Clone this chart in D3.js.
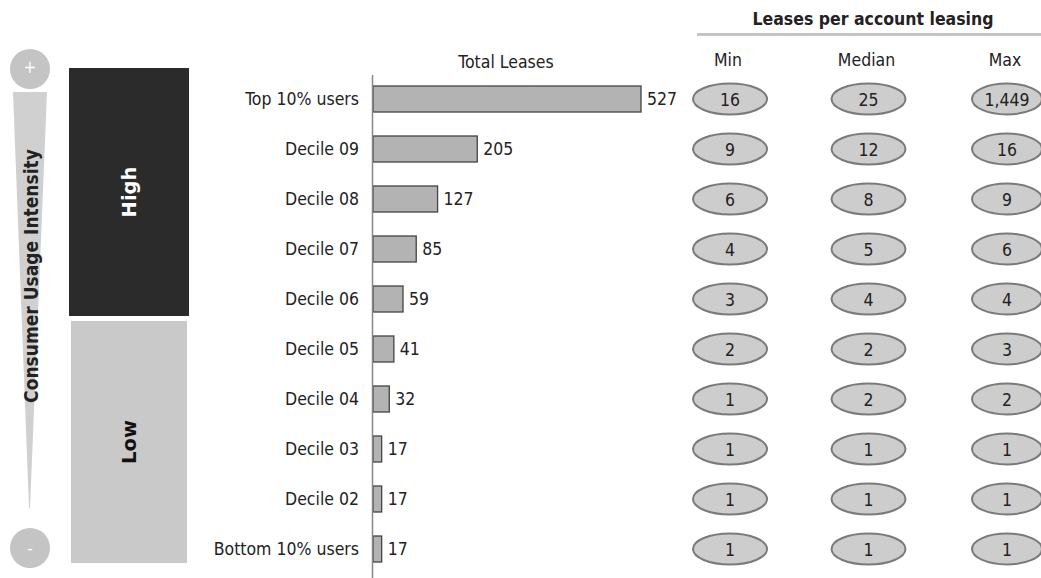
<!DOCTYPE html>
<html><head><meta charset="utf-8">
<script src="https://cdn.jsdelivr.net/npm/d3@7/dist/d3.min.js"></script>
<style>
html,body{margin:0;padding:0;background:#fff;}
svg{display:block;font-family:"DejaVu Sans Condensed","DejaVu Sans",sans-serif;}
</style></head><body>
<svg id="c" width="1041" height="578"></svg>
<script>
const categories = ["Top 10% users","Decile 09","Decile 08","Decile 07","Decile 06","Decile 05","Decile 04","Decile 03","Decile 02","Bottom 10% users"];
const totalLeases = [527,205,127,85,59,41,32,17,17,17];
const minLeases = [16,9,6,4,3,2,1,1,1,1];
const medianLeases = [25,12,8,5,4,2,2,1,1,1];
const maxLeases = [1449,16,9,6,4,3,2,1,1,1];
const statColumns = ["Min","Median","Max"];
const groups = [{label:"High", from:0, to:4},{label:"Low", from:5, to:9}];

const FS = 17.5;
const svg = d3.select("#c");
const fmt = d3.format(",");

const y = d3.scaleBand().domain(categories).range([74, 574]).paddingInner(0.48).paddingOuter(0.24);
const x = d3.scaleLinear().domain([0, 527]).range([373, 641]);

// Left intensity indicator
const ind = svg.append("g");
ind.append("path").attr("d","M13,92 L47,92 L30,508 L29,508 Z").attr("fill","#d0d0d0");
ind.append("circle").attr("cx",30).attr("cy",69).attr("r",20).attr("fill","#c4c4c4");
ind.append("circle").attr("cx",30).attr("cy",548).attr("r",20).attr("fill","#c4c4c4");
ind.append("text").attr("x",30).attr("y",67).attr("dy","0.35em").attr("text-anchor","middle").attr("fill","#fff").attr("font-size",17).text("+");
ind.append("text").attr("x",30).attr("y",548).attr("dy","0.35em").attr("text-anchor","middle").attr("fill","#fff").attr("font-size",17).text("-");
ind.append("text").attr("transform","translate(31,276) rotate(-90)").attr("text-anchor","middle").attr("dy","0.35em")
  .attr("font-size",19).attr("fill","#222").attr("font-weight","600").text("Consumer Usage Intensity");

// High / Low boxes
const boxes = [{x:69,y0:68,y1:316,w:120,fill:"#2b2b2b",tc:"#fff"},{x:71,y0:321,y1:563,w:116,fill:"#c9c9c9",tc:"#111"}];
groups.forEach((g,i)=>{
  const b = boxes[i];
  svg.append("rect").attr("x",b.x).attr("y",b.y0).attr("width",b.w).attr("height",b.y1-b.y0).attr("fill",b.fill);
  svg.append("text").attr("transform",`translate(${b.x+b.w/2},${(b.y0+b.y1)/2}) rotate(-90)`).attr("text-anchor","middle").attr("dy","0.35em")
    .attr("font-family","DejaVu Sans, sans-serif").attr("font-size",19.5).attr("font-weight","600").attr("fill",b.tc).text(g.label);
});

// Bars
svg.append("text").attr("x",506).attr("y",62).attr("dy","0.35em").attr("text-anchor","middle").attr("font-size",FS).attr("fill","#222").text("Total Leases");

svg.selectAll("rect.bar").data(categories).join("rect").attr("class","bar")
  .attr("x", x(0)).attr("y", d=>y(d)).attr("width",(d,i)=>x(totalLeases[i])-x(0)).attr("height",y.bandwidth())
  .attr("fill","#b3b3b3").attr("stroke","#444").attr("stroke-width",1.3);

svg.selectAll("text.val").data(categories).join("text").attr("class","val")
  .attr("x",(d,i)=>x(totalLeases[i])+6).attr("y",d=>y(d)+y.bandwidth()/2).attr("dy","0.35em")
  .attr("font-size",FS).attr("fill","#222").text((d,i)=>totalLeases[i]);

const yAxis = d3.axisLeft(y).tickSize(0).tickPadding(14);
const ag = svg.append("g").attr("transform",`translate(${x(0)},0)`).call(yAxis);
ag.select(".domain").remove();
ag.selectAll("text").attr("font-size",FS).attr("fill","#222").attr("font-family","DejaVu Sans Condensed, DejaVu Sans, sans-serif");
svg.append("line").attr("x1",x(0)-0.5).attr("x2",x(0)-0.5).attr("y1",75).attr("y2",578).attr("stroke","#888").attr("stroke-width",1.5);

// Stats table
const colX = d3.scalePoint().domain(statColumns).range([730, 1007]);
svg.append("text").attr("x",873).attr("y",19).attr("dy","0.35em").attr("text-anchor","middle").attr("font-size",FS).attr("font-weight","600").attr("fill","#222").text("Leases per account leasing");
svg.append("line").attr("x1",697).attr("x2",1041).attr("y1",34.5).attr("y2",34.5).attr("stroke","#c4c4c4").attr("stroke-width",3);
svg.selectAll("text.colh").data(statColumns).join("text").attr("class","colh")
  .attr("x",d=>colX(d)-2).attr("y",60).attr("dy","0.35em").attr("text-anchor","middle").attr("font-size",FS).attr("fill","#222").text(d=>d);

const statSeries = [minLeases, medianLeases, maxLeases];
statColumns.forEach((c,ci)=>{
  const vals = statSeries[ci];
  const g = svg.append("g");
  g.selectAll("ellipse").data(categories).join("ellipse")
    .attr("cx",colX(c)).attr("cy",d=>y(d)+y.bandwidth()/2).attr("rx",ci===2?35:37).attr("ry",15.5)
    .attr("fill","#cdcdcd").attr("stroke","#7a7a7a").attr("stroke-width",2);
  g.selectAll("text").data(categories).join("text")
    .attr("x",colX(c)).attr("y",d=>y(d)+y.bandwidth()/2+1).attr("dy","0.35em").attr("text-anchor","middle")
    .attr("font-size",FS).attr("fill","#222").text((d,i)=>fmt(vals[i]));
});
</script>
</body></html>
